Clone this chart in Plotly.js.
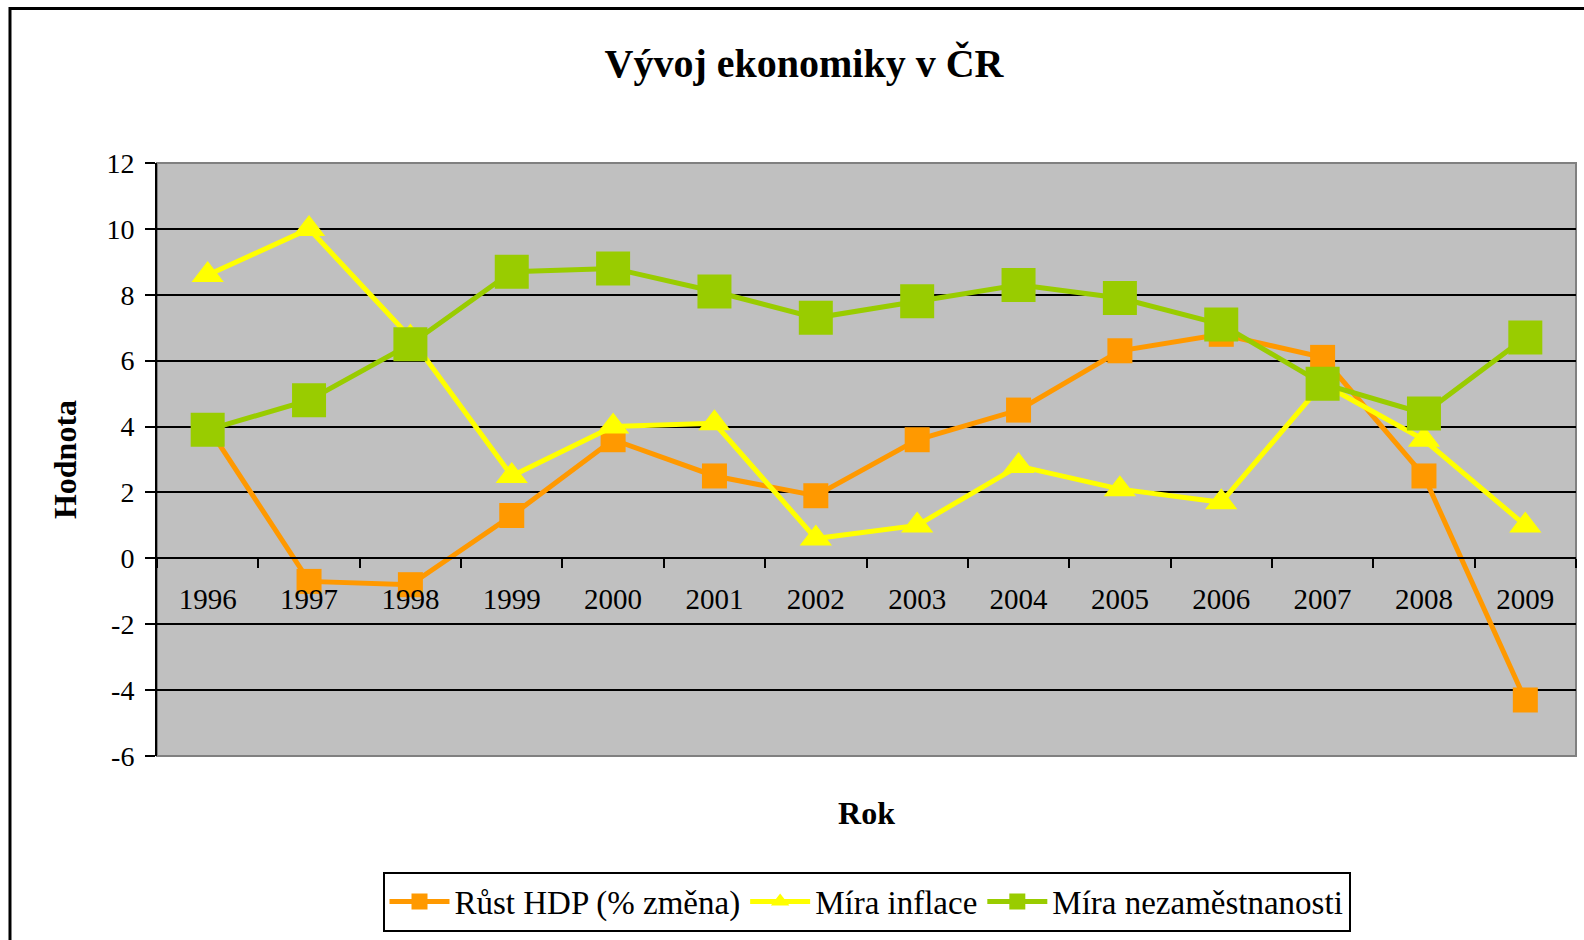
<!DOCTYPE html>
<html>
<head>
<meta charset="utf-8">
<script src="https://cdn.plot.ly/plotly-3.0.1.min.js"></script>
<style>html,body{margin:0;padding:0;background:#fff;}#chart{width:1584px;height:940px;}</style>
</head>
<body>
<div id="chart"></div>
<script>
const years = ["1996","1997","1998","1999","2000","2001","2002","2003","2004","2005","2006","2007","2008","2009"];
const rustHDP = [4.0, -0.7, -0.8, 1.3, 3.6, 2.5, 1.9, 3.6, 4.5, 6.3, 6.8, 6.1, 2.5, -4.3];
const miraInflace = [8.6, 10.0, 6.7, 2.5, 4.0, 4.1, 0.6, 1.0, 2.8, 2.1, 1.7, 5.3, 3.6, 1.0];
const miraNezamestnanosti = [3.9, 4.8, 6.5, 8.7, 8.8, 8.1, 7.3, 7.8, 8.3, 7.9, 7.1, 5.3, 4.4, 6.7];
const seriesNames = ["Růst HDP (% změna)", "Míra inflace", "Míra nezaměstnanosti"];
const yTicks = [-6, -4, -2, 0, 2, 4, 6, 8, 10, 12];

const serif = "'Liberation Serif', 'Times New Roman', serif";

const traces = [
  {x: years, y: rustHDP, name: seriesNames[0], type: "scatter", mode: "lines+markers",
   line: {color: "#FF9900", width: 5}, marker: {symbol: "square", size: 25, color: "#FF9900"}},
  {x: years, y: miraInflace, name: seriesNames[1], type: "scatter", mode: "lines+markers",
   line: {color: "#FFFF00", width: 5}, marker: {symbol: "triangle-up", size: 28, color: "#FFFF00"}},
  {x: years, y: miraNezamestnanosti, name: seriesNames[2], type: "scatter", mode: "lines+markers",
   line: {color: "#99CC00", width: 5}, marker: {symbol: "square", size: 34, color: "#99CC00"}}
];

const layout = {
  width: 1584, height: 940,
  margin: {l: 157, r: 8, t: 163, b: 182},
  paper_bgcolor: "#ffffff",
  plot_bgcolor: "#C0C0C0",
  font: {family: serif, color: "#000", size: 28},
  showlegend: true,
  title: {text: "<b>Vývoj ekonomiky v ČR</b>", font: {family: serif, size: 40, color: "#000"},
          x: 0.5076, xref: "container", xanchor: "center", y: 0.933, yref: "container", yanchor: "middle"},
  xaxis: {
    type: "category", categoryorder: "array", categoryarray: years,
    range: [-0.5, 13.5],
    anchor: "free", position: 1/3,
    showline: true, linecolor: "#000", linewidth: 2,
    ticks: "outside", tickson: "boundaries", ticklen: 9, tickwidth: 2, tickcolor: "#000",
    ticklabelstandoff: 15,
    tickfont: {family: serif, size: 29, color: "#000"},
    showgrid: false, zeroline: false,
    title: {text: "<b>Rok</b>", font: {family: serif, size: 32, color: "#000"}, standoff: 186}
  },
  yaxis: {
    range: [-6, 12], tickvals: yTicks, ticktext: yTicks.map(String),
    showline: true, linecolor: "#000", linewidth: 2,
    ticks: "outside", ticklen: 10, tickwidth: 2, tickcolor: "#000",
    ticklabelstandoff: 5,
    tickfont: {family: serif, size: 28, color: "#000"},
    showgrid: true, gridcolor: "#000", gridwidth: 2, zeroline: false,
    title: {text: "<b>Hodnota</b>", font: {family: serif, size: 32, color: "#000"}, standoff: 20}
  },
  legend: {
    orientation: "h", x: 0.5, xanchor: "center", y: -0.195, yanchor: "top",
    bgcolor: "#fff", bordercolor: "#000", borderwidth: 2,
    font: {family: serif, size: 33, color: "#000"},
    itemwidth: 60
  },
  shapes: [
    {type: "rect", xref: "paper", yref: "paper", x0: 0, x1: 1, y0: 0, y1: 1,
     line: {color: "#808080", width: 2}, layer: "below"},
    {type: "rect", xref: "paper", yref: "paper", x0: -0.1036, x1: 1.02, y0: -0.35, y1: 1.2605,
     line: {color: "#000", width: 3}, fillcolor: "rgba(0,0,0,0)", layer: "above"}
  ]
};

Plotly.newPlot("chart", traces, layout, {displayModeBar: false, staticPlot: true});
</script>
</body>
</html>
